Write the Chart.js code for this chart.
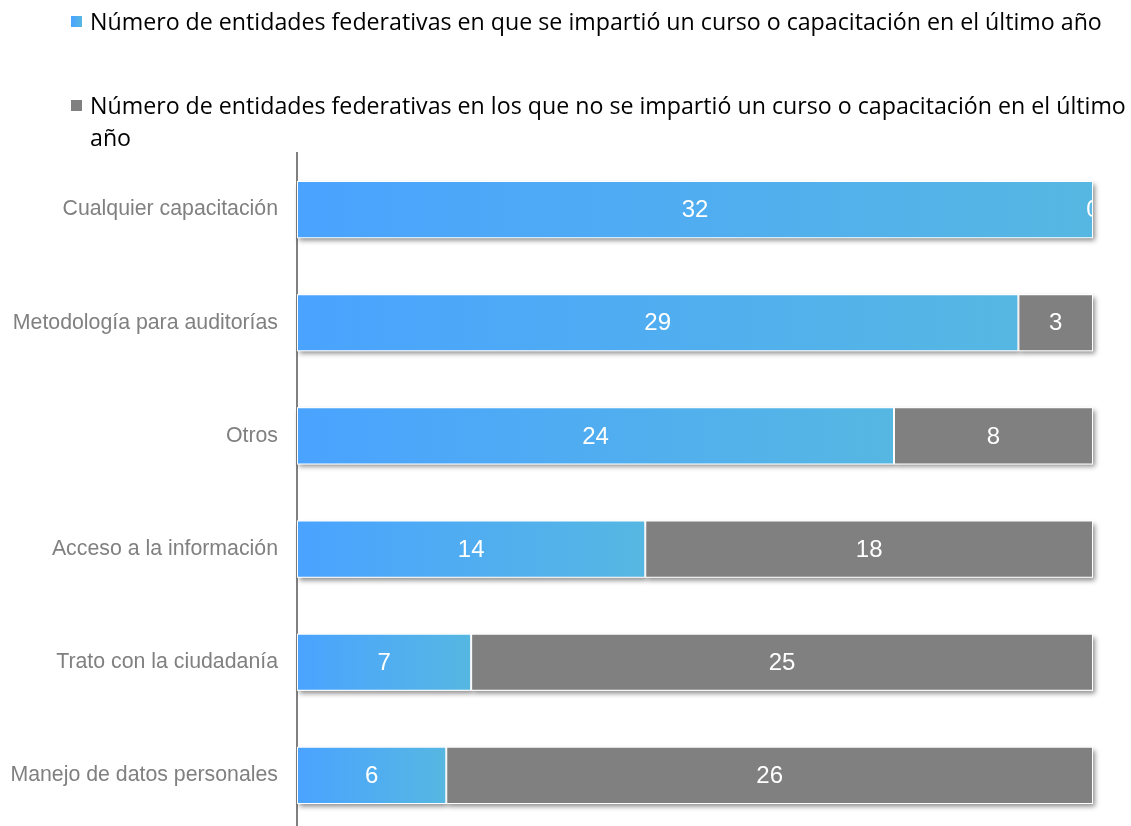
<!DOCTYPE html>
<html>
<head>
<meta charset="utf-8">
<script src="https://cdn.jsdelivr.net/npm/chart.js@4.4.1/dist/chart.umd.min.js"></script>
<style>
  html, body { margin: 0; padding: 0; background: #fff; overflow: hidden; }
  #wrap { position: relative; width: 1131px; height: 832px; }
  #chart { position: absolute; left: 0; top: 0; }
  .legend { position: absolute; left: 71px; font-family: "Open Sans", "Noto Sans", sans-serif; font-size: 23.2px; line-height: 32px; color: #000; }
  .legend .box { position: absolute; left: 0; top: 11px; width: 11px; height: 11px; }
  .legend .txt { margin-left: 19px; white-space: nowrap; }
</style>
</head>
<body>
<div id="wrap">
  <canvas id="chart" width="1131" height="832"></canvas>
  <div class="legend" style="top:5px"><span class="box" style="background:linear-gradient(90deg,#4aa3ff,#56b7e2)"></span><div class="txt">Número de entidades federativas en que se impartió un curso o capacitación en el último año</div></div>
  <div class="legend" style="top:89px"><span class="box" style="background:#808080"></span><div class="txt">Número de entidades federativas en los que no se impartió un curso o capacitación en el último<br>año</div></div>
</div>
<script>
// categories and counts per state (32 in total)
var categories = ['Cualquier capacitación', 'Metodología para auditorías', 'Otros',
  'Acceso a la información', 'Trato con la ciudadanía', 'Manejo de datos personales'];
var conCurso = [32, 29, 24, 14, 7, 6];
var sinCurso = [0, 3, 8, 18, 25, 26];
var xTicks = [0, 32];

// blue gradient across each blue segment
function blueFill(c) {
    var chart = c.chart;
    if (!chart.chartArea) return '#4aa3ff';
    var xs = chart.scales.x;
    var x0 = xs.getPixelForValue(0);
    var x1 = xs.getPixelForValue(conCurso[c.dataIndex]);
    if (x1 - x0 < 1) x1 = x0 + 1;
    var g = chart.ctx.createLinearGradient(x0, 0, x1, 0);
    g.addColorStop(0, '#4aa3ff');
    g.addColorStop(1, '#56b7e2');
    return g;
}

// soft drop shadow under each segment, then value labels on top
var barExtras = {
    id: 'barExtras',
    beforeDatasetsDraw: function (chart) {
        var ctx = chart.ctx;
        ctx.save();
        ctx.shadowColor = 'rgba(0,0,0,0.45)';
        ctx.shadowBlur = 5;
        ctx.shadowOffsetX = 2;
        ctx.shadowOffsetY = 3;
        ctx.fillStyle = '#ffffff';
        chart.data.datasets.forEach(function (ds, di) {
            chart.getDatasetMeta(di).data.forEach(function (bar) {
                var l = Math.min(bar.x, bar.base), w = Math.abs(bar.x - bar.base);
                if (w < 1) return;
                ctx.fillRect(l, bar.y - bar.height / 2, w, bar.height);
            });
        });
        ctx.restore();
    },
    afterDatasetsDraw: function (chart) {
        var ctx = chart.ctx, area = chart.chartArea;
        ctx.save();
        ctx.beginPath();
        ctx.rect(area.left, area.top, area.right - area.left, area.bottom - area.top);
        ctx.clip();
        ctx.fillStyle = '#ffffff';
        ctx.font = '24px "Liberation Sans", Arial, sans-serif';
        ctx.textAlign = 'center';
        ctx.textBaseline = 'middle';
        chart.data.datasets.forEach(function (ds, di) {
            chart.getDatasetMeta(di).data.forEach(function (bar, i) {
                ctx.fillText(String(ds.data[i]), (bar.x + bar.base) / 2, bar.y + 1);
            });
        });
        ctx.restore();
    }
};

var ctx = document.getElementById('chart').getContext('2d');
var chart = new Chart(ctx, {
    type: 'bar',
    data: {
        labels: categories,
        datasets: [{
            label: 'Número de entidades federativas en que se impartió un curso o capacitación en el último año',
            data: conCurso,
            backgroundColor: blueFill,
            borderColor: 'rgba(255,255,255,0.85)',
            borderWidth: 1,
            borderSkipped: false,
            categoryPercentage: 1,
            barPercentage: 0.505
        }, {
            label: 'Número de entidades federativas en los que no se impartió un curso o capacitación en el último año',
            data: sinCurso,
            backgroundColor: '#808080',
            borderColor: 'rgba(255,255,255,0.85)',
            borderWidth: 1,
            borderSkipped: false,
            categoryPercentage: 1,
            barPercentage: 0.505
        }]
    },
    options: {
        indexAxis: 'y',
        responsive: false,
        animation: false,
        layout: { padding: { top: 153, right: 38, bottom: 0, left: 0 } },
        plugins: {
            legend: { display: false },
            tooltip: { enabled: false }
        },
        scales: {
            x: {
                stacked: true,
                display: false,
                min: xTicks[0],
                max: xTicks[1]
            },
            y: {
                stacked: true,
                grid: { display: false, drawTicks: false },
                border: { display: true, color: '#808080', width: 2 },
                ticks: {
                    color: '#808080',
                    padding: 19,
                    font: { family: '"Liberation Sans", Arial, sans-serif', size: 21.3 }
                },
                afterFit: function (scale) {
                    scale.width = 297;
                    // labels are inside the plot height, no extra room needed
                    scale.paddingTop = 0;
                    scale.paddingBottom = 0;
                }
            }
        }
    },
    plugins: [barExtras]
});
</script>
</body>
</html>
